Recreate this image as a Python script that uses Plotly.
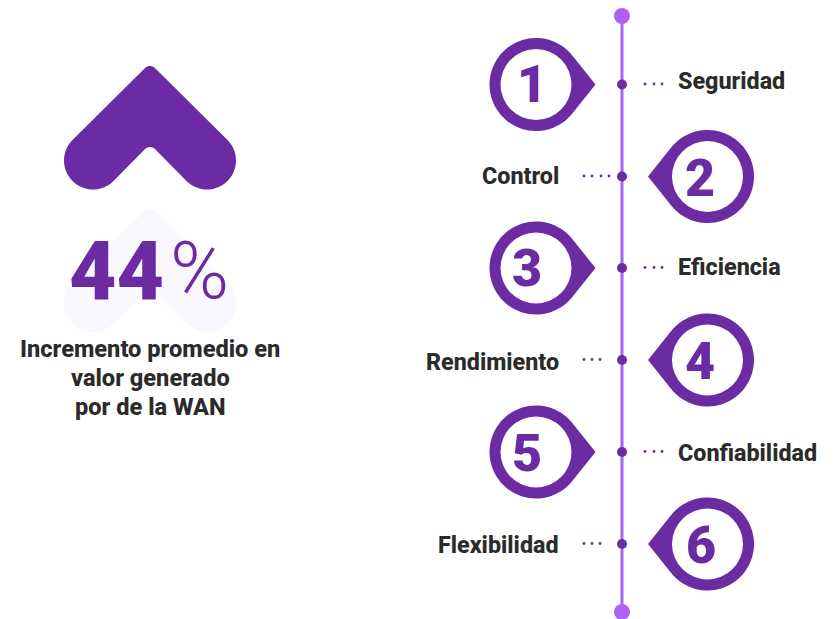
import math
import plotly.graph_objects as go

W, H = 833, 619
PURPLE = "#6b2ba3"
LILAC = "#ac62f5"
FAINT = "#faf7fe"
INK = "#2b2b2b"
FONT = "Roboto"

step_numbers = ["1", "2", "3", "4", "5", "6"]
step_labels = ["Seguridad", "Control", "Eficiencia", "Rendimiento", "Confiabilidad", "Flexibilidad"]
step_sides = ["L", "R", "L", "R", "L", "R"]
step_y = [84.5, 176.5, 268, 360, 452, 544]
label_y = [81, 176, 267, 362, 453, 545]
number_x = [532, 700, 527, 700, 527, 701]
number_y = [84, 178, 268, 361, 453, 545]
leader_x = [[645, 654, 662], [584, 592, 601, 609], [645, 654, 662],
            [584, 592, 600], [645, 654, 662], [584, 592, 600]]

headline_value = "44"
headline_unit = "%"
caption_lines = ["Incremento promedio en", "valor generado", "por de la WAN"]
caption_y = [349, 378, 407]

AXIS_X = 622
AXIS_TOP, AXIS_BOTTOM = 16, 612


def arc(cx, cy, r, a0, a1, n=40):
    return [(cx + r * math.cos(math.radians(a0 + (a1 - a0) * i / n)),
             cy + r * math.sin(math.radians(a0 + (a1 - a0) * i / n))) for i in range(n + 1)]


def to_path(pts):
    return "M" + " L".join(f"{x:.2f},{y:.2f}" for x, y in pts) + " Z"


def chevron(dy=0):
    pts = []
    pts += arc(150, 73 + dy, 7, 225, 315, 12)        # tip
    pts += arc(207, 160.5 + dy, 29, -45, 135, 40)    # right lobe
    pts += arc(150, 154 + dy, 7, 315, 225, 12)       # inner notch
    pts += arc(93, 160.5 + dy, 29, 45, 225, 40)      # left lobe
    return to_path(pts)


def pin(cx, cy, side, r=46.5, reach=59.5):
    sgn = 1 if side == "L" else -1
    tip = (cx + sgn * reach, cy)
    ang = math.degrees(math.acos(r / reach))
    if sgn == 1:
        body = arc(cx, cy, r, ang, 360 - ang, 70)
    else:
        body = arc(cx, cy, r, 180 + ang, 540 - ang, 70)
    return to_path(body + [tip])


shapes = [
    dict(type="path", path=chevron(142.5), fillcolor=FAINT, line_width=0, layer="below"),
    dict(type="path", path=chevron(0), fillcolor=PURPLE, line_width=0, layer="below"),
]
annotations = []


def text(x, y, s, size, color, anchor="center", weight=700):
    annotations.append(dict(x=x, y=y, text=s, showarrow=False, xanchor=anchor, yanchor="middle",
                            xref="x", yref="y",
                            font=dict(family=FONT, size=size, color=color, weight=weight)))


for num, lab, side, y, ly, nx, ny in zip(step_numbers, step_labels, step_sides, step_y, label_y, number_x, number_y):
    cx = 536 if side == "L" else 707.5
    shapes.append(dict(type="path", path=pin(cx, y, side), fillcolor=PURPLE, line_width=0, layer="below"))
    shapes.append(dict(type="circle", x0=cx - 35.5, x1=cx + 35.5, y0=y - 35.5, y1=y + 35.5,
                       fillcolor="white", line_width=0, layer="below"))
    text(nx, ny, num, 52, PURPLE, weight=900)
    if side == "L":
        text(675.5, ly, lab, 23.3, INK, "left", 800)
    else:
        text(560.5, ly, lab, 23.3, INK, "right", 800)

text(116, 271, headline_value, 82, PURPLE, weight=900)
text(199, 271, headline_unit, 80, PURPLE, weight=300)
for line, y in zip(caption_lines, caption_y):
    text(150, y, line, 23.6, INK, weight=800)

traces = [
    go.Scatter(x=[AXIS_X, AXIS_X], y=[AXIS_TOP, AXIS_BOTTOM], mode="lines",
               line=dict(color=LILAC, width=3), hoverinfo="skip"),
    go.Scatter(x=[AXIS_X, AXIS_X], y=[AXIS_TOP, AXIS_BOTTOM], mode="markers",
               marker=dict(color=LILAC, size=16), hoverinfo="skip"),
    go.Scatter(x=[AXIS_X] * len(step_y), y=step_y, mode="markers",
               marker=dict(color=PURPLE, size=10), hoverinfo="skip"),
    go.Scatter(x=[x for xs in leader_x for x in xs],
               y=[y - 0.5 for xs, y in zip(leader_x, step_y) for _ in xs], mode="markers",
               marker=dict(color=PURPLE, size=2.8), hoverinfo="skip"),
]

fig = go.Figure(traces)
fig.update_layout(
    width=W, height=H, margin=dict(l=0, r=0, t=0, b=0), showlegend=False,
    paper_bgcolor="white", plot_bgcolor="white", shapes=shapes, annotations=annotations,
    xaxis=dict(range=[0, W], visible=False, fixedrange=True),
    yaxis=dict(range=[H, 0], visible=False, fixedrange=True),
)
fig.write_html("out.html", config=dict(displayModeBar=False),
               post_script="document.body.style.margin='0';document.documentElement.style.overflow='hidden';")
